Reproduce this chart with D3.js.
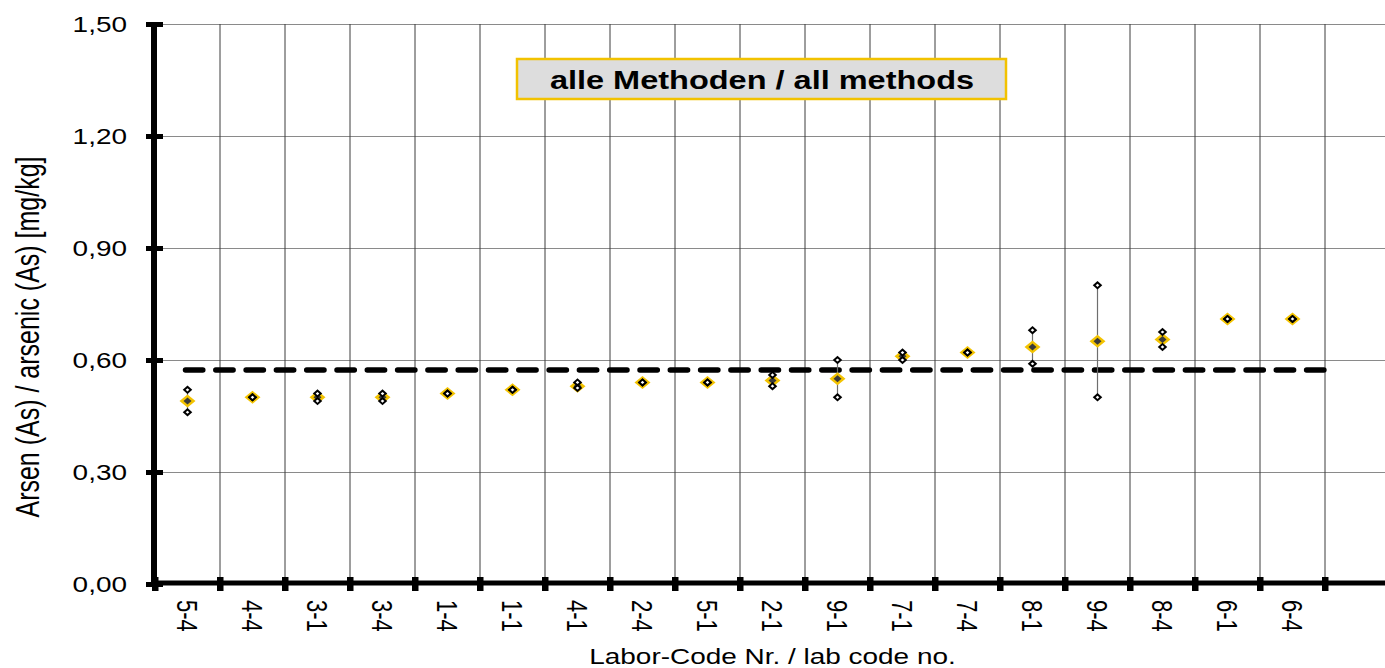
<!DOCTYPE html>
<html>
<head>
<meta charset="utf-8">
<script src="https://cdn.jsdelivr.net/npm/d3@7"></script>
<style>
  html, body { margin: 0; padding: 0; background: #fff; }
  svg { display: block; }
  text { font-family: "Liberation Sans", Arial, sans-serif; fill: #000; }
</style>
</head>
<body>
<svg id="chart" width="1385" height="668"></svg>
<script>
// Laboratory codes in plotting order (one empty slot follows on the right)
const labs = ["5-4","4-4","3-1","3-4","1-4","1-1","4-1","2-4","5-1","2-1","9-1","7-1","7-4","8-1","9-4","8-4","6-1","6-4"];
// Mean result per laboratory [mg/kg]
const labMeans = [0.49,0.50,0.50,0.50,0.51,0.52,0.53,0.54,0.54,0.545,0.55,0.61,0.62,0.635,0.65,0.655,0.71,0.71];
// Individual replicate results per laboratory [mg/kg]
const labValuesA = [0.52,0.50,0.51,0.51,0.51,0.52,0.54,0.54,0.54,0.56,0.60,0.62,0.62,0.68,0.80,0.675,0.71,0.71];
const labValuesB = [0.46,0.50,0.49,0.49,0.51,0.52,0.525,0.54,0.54,0.53,0.50,0.60,0.62,0.59,0.50,0.635,0.71,0.71];
// Assigned value (dashed reference line)
const assignedValue = 0.573;
// Y axis ticks
const yTicks = [0, 0.30, 0.60, 0.90, 1.20, 1.50];

const titleText = "alle Methoden / all methods";
const yTitle = "Arsen (As) / arsenic (As) [mg/kg]";
const xTitle = "Labor-Code Nr. / lab code no.";

const SX = 1.3;           // horizontal text stretch
const svg = d3.select("#chart");

const slots = labs.concat(["__spare"]);
const x = d3.scaleBand().domain(slots).range([155, 1390]).paddingInner(0).paddingOuter(0);
const y = d3.scaleLinear().domain([0, 1.5]).range([584, 24]);
const bw = x.bandwidth();
const axisX = 154, axisY = 583;

// horizontal gridlines
svg.append("g").selectAll("line").data(yTicks.filter(d => d > 0)).join("line")
  .attr("x1", axisX).attr("x2", 1390)
  .attr("y1", d => Math.round(y(d)) + 0.5).attr("y2", d => Math.round(y(d)) + 0.5)
  .attr("stroke", "#8a8a8a").attr("stroke-width", 1);

// vertical gridlines at category boundaries
svg.append("g").selectAll("line").data(slots.slice(1)).join("line")
  .attr("x1", d => x(d)).attr("x2", d => x(d))
  .attr("y1", y(1.5)).attr("y2", axisY)
  .attr("stroke", "#3c3c3c").attr("stroke-width", 1);

// assigned value (dashed)
svg.append("line")
  .attr("x1", x(labs[0]) + bw / 2 - 2)
  .attr("x2", x(labs[labs.length - 1]) + bw)
  .attr("y1", y(assignedValue)).attr("y2", y(assignedValue))
  .attr("stroke", "#000").attr("stroke-width", 5.5)
  .attr("stroke-linecap", "round")
  .attr("stroke-dasharray", "17.3 13");

// diamond path helper
const diamond = (w, h) => `M0,${-h/2}L${w/2},0L0,${h/2}L${-w/2},0Z`;

const rows = labs.map((lab, i) => ({
  lab, mean: labMeans[i], vals: [labValuesA[i], labValuesB[i]]
}));

const g = svg.append("g");
// min-max ranges
g.selectAll("line.range").data(rows).join("line")
  .attr("class", "range")
  .attr("x1", d => x(d.lab) + bw / 2).attr("x2", d => x(d.lab) + bw / 2)
  .attr("y1", d => y(d3.max(d.vals))).attr("y2", d => y(d3.min(d.vals)))
  .attr("stroke", "#6e6e6e").attr("stroke-width", 1.2);

// mean markers
const means = g.selectAll("g.mean").data(rows).join("g")
  .attr("class", "mean")
  .attr("transform", d => `translate(${x(d.lab) + bw / 2},${y(d.mean)})`);
means.append("path").attr("d", diamond(16, 13)).attr("fill", "#f3c300");
means.append("path").attr("d", diamond(8, 7)).attr("fill", "#3a3a3a");

// individual results
const singles = rows.flatMap(d => d.vals.map(v => ({ lab: d.lab, v })));
const sg = g.selectAll("g.single").data(singles).join("g")
  .attr("class", "single")
  .attr("transform", d => `translate(${x(d.lab) + bw / 2},${y(d.v)})`);
sg.append("path").attr("d", diamond(9.5, 8.5)).attr("fill", "#000");
sg.append("path").attr("d", diamond(3.6, 3.2)).attr("fill", "#fff");

// y axis
const yAxisG = svg.append("g").attr("transform", `translate(${axisX},0)`)
  .call(d3.axisLeft(y).tickValues(yTicks).tickSize(0)
    .tickFormat(d => d.toFixed(2).replace(".", ",")));
yAxisG.select(".domain").remove();
yAxisG.selectAll(".tick line").remove();
yAxisG.selectAll(".tick").append("rect")
  .attr("x", -8).attr("y", -2.5).attr("width", 17).attr("height", 5).attr("fill", "#000");
yAxisG.selectAll(".tick text")
  .attr("x", null).attr("dy", null)
  .attr("transform", `translate(-27,0) scale(${SX},1)`)
  .attr("dy", "0.36em")
  .style("font-size", "21.5px").style("font-family", "'Liberation Sans', Arial, sans-serif")
  .attr("fill", "#000");
svg.append("line").attr("x1", axisX).attr("x2", axisX)
  .attr("y1", y(1.5) - 2).attr("y2", axisY + 3)
  .attr("stroke", "#000").attr("stroke-width", 6);

// x axis
svg.append("line").attr("x1", axisX).attr("x2", 1390)
  .attr("y1", axisY).attr("y2", axisY)
  .attr("stroke", "#000").attr("stroke-width", 5);
const xTicks = slots.map(s => x(s));
svg.append("g").selectAll("rect").data(xTicks).join("rect")
  .attr("x", d => d - 3).attr("y", axisY - 6).attr("width", 6.5).attr("height", 14)
  .attr("fill", "#000");

const xAxisG = svg.append("g").attr("transform", `translate(0,${axisY})`)
  .call(d3.axisBottom(x).tickValues(labs).tickSize(0));
xAxisG.select(".domain").remove();
xAxisG.selectAll(".tick text")
  .attr("y", null).attr("dy", null)
  .attr("transform", `translate(0,17) scale(${SX},1) rotate(90)`)
  .attr("text-anchor", "start")
  .attr("dy", "0.36em")
  .style("font-size", "22px").style("font-family", "'Liberation Sans', Arial, sans-serif")
  .attr("fill", "#000");

// axis titles
svg.append("text")
  .attr("transform", `translate(${x(labs[9]) + bw / 2},664) scale(${SX},1)`)
  .attr("text-anchor", "middle")
  .style("font-size", "21.5px")
  .text(xTitle);

svg.append("text")
  .attr("transform", `translate(27,337) scale(${SX},1) rotate(-90)`)
  .attr("text-anchor", "middle")
  .attr("dy", "0.36em")
  .style("font-size", "25px")
  .text(yTitle);

// method label box
const boxG = svg.append("g");
boxG.append("rect")
  .attr("x", 517).attr("y", 59).attr("width", 489).attr("height", 40)
  .attr("fill", "#dddddd").attr("stroke", "#f2c200").attr("stroke-width", 2.5);
boxG.append("text")
  .attr("transform", `translate(762,80) scale(${SX},1)`)
  .attr("text-anchor", "middle").attr("dy", "0.36em")
  .style("font-size", "25px").style("font-weight", "bold")
  .text(titleText);
</script>
</body>
</html>
